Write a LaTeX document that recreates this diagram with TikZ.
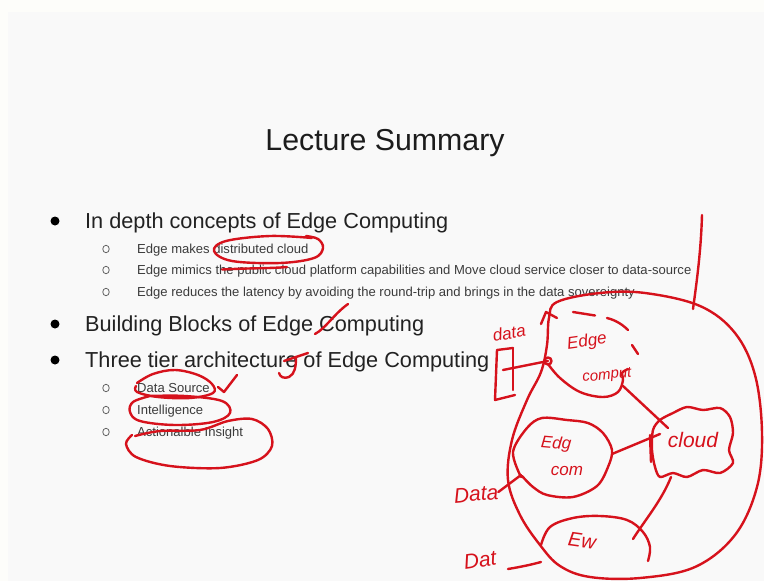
\documentclass[tikz,border=0pt]{standalone}
\usepackage{fontspec}
\setmainfont{Liberation Sans}
\usetikzlibrary{shapes.geometric}
\definecolor{pen}{RGB}{214,18,28}
\definecolor{slidebg}{RGB}{249,249,249}
\definecolor{pagebg}{RGB}{253,253,250}
\definecolor{headink}{RGB}{28,28,28}
\definecolor{bodyink}{RGB}{34,34,34}
\definecolor{subink}{RGB}{60,60,60}
\begin{document}
\begin{tikzpicture}[x=1pt,y=-1pt,
  ink/.style={draw=pen, line width=2.4pt, line cap=round, line join=round},
  hand/.style={text=pen, inner sep=0pt, font=\fontsize{#1}{#1}\selectfont\itshape},
  mainitem/.style={anchor=base west, inner sep=0pt, text=bodyink, font=\fontsize{21.7}{26}\selectfont},
  subitem/.style={anchor=base west, inner sep=0pt, text=subink, font=\fontsize{13.05}{15}\selectfont},
  bigdot/.style={fill=black, circle, inner sep=0pt, minimum size=9pt},
  ring/.style={draw=subink!80, line width=0.8pt, ellipse, inner sep=0pt, minimum width=6.5pt, minimum height=7.5pt}]

% page and slide area
\fill[pagebg] (0,0) rectangle (764,581);
\fill[slidebg] (8,12) rectangle (764,581);
\useasboundingbox (0,0) rectangle (764,581);

% title
\node[anchor=base, inner sep=0pt, text=headink, font=\fontsize{30.3}{36}\selectfont] (title) at (385,150) {Lecture Summary};

% first-level bullets
\node[bigdot] (b1) at (55,221) {};
\node[bigdot] (b2) at (55,324) {};
\node[bigdot] (b3) at (55,360) {};
\node[mainitem] (m1) at (85,228) {In depth concepts of Edge Computing};
\node[mainitem] (m2) at (85,331) {Building Blocks of Edge Computing};
\node[mainitem] (m3) at (85,367) {Three tier architecture of Edge Computing};

% second-level bullets
\foreach \yy/\nm in {249/r1,270/r2,292/r3,388/r4,410/r5,432/r6}
  \node[ring] (\nm) at (106,\yy) {};
\node[subitem] (s1) at (137,253.5) {Edge makes distributed cloud};
\node[subitem] (s2) at (137,274.5) {Edge mimics the public cloud platform capabilities and Move cloud service closer to data-source};
\node[subitem] (s3) at (137,296.5) {Edge reduces the latency by avoiding the round-trip and brings in the data sovereignty};
\node[subitem] (s4) at (137,392.5) {Data Source};
\node[subitem] (s5) at (137,414.5) {Intelligence};
\node[subitem] (s6) at (137,436.5) {Actionalble Insight};

% ---- pen annotations on the text ----
% loop around "distributed cloud"
\draw[ink] plot[smooth, tension=0.6] coordinates {(312,238) (270,236) (226,241) (214,251) (232,261) (280,263) (314,258) (323,248) (318,239) (306,236)};
% strike through "public cloud"
\draw[ink] (222,269.5) .. controls (250,268) and (270,268.5) .. (287,267);
% slash over the C of Computing
\draw[ink] (315,334) .. controls (326,328) and (334,314) .. (348,304);
% hook across "architecture"
\draw[ink] (284,361) -- (308,353);
\draw[ink] (296,358) .. controls (296,366) and (295,374) .. (289,377) .. controls (284,379) and (280,377) .. (279,373);
% tick after "Data Source"
\draw[ink] (218,387) -- (224,392) -- (237,375);
% loop around "Data Source"
\draw[ink] plot[smooth, tension=0.6] coordinates {(137,383) (153,374) (175,370) (198,375) (212,384) (213,393) (190,398) (158,397) (137,392) (136,386)};
% loop around "Intelligence"
\draw[ink] plot[smooth, tension=0.6] coordinates {(150,396) (133,402) (130,412) (140,421) (175,425) (213,422) (230,413) (222,401) (185,396) (150,396)};
% large loop around "Actionalble Insight"
\draw[ink] plot[smooth, tension=0.55] coordinates {(135,436) (160,431) (200,430) (228,421) (252,419) (268,429) (272,446) (258,460) (220,468) (170,466) (136,457) (126,444) (132,435)};

% vertical stroke at the right of the list
\draw[ink] (702,215) .. controls (701,250) and (697,280) .. (693,309);

% ---- hand sketch: edge / cloud layout ----
% outer boundary
\draw[ink] plot[smooth cycle, tension=0.6] coordinates {(549,318) (557,302) (600,293) (645,293) (700,306) (735,333) (755,375) (762,433) (757,487) (735,535) (695,567) (640,578) (590,577) (560,566) (540,545) (520,515) (508,480) (512,440) (527,400) (541,372) (547,345)};

% top edge-computing cloud (dashed upper rim)
\coordinate (knot) at (548,361);
\draw[ink] (knot) circle (3.5);
\draw[ink] plot[smooth, tension=0.6] coordinates {(548,364) (560,378) (580,392) (603,397) (618,392) (623,380) (622,373) (628,369)};
\draw[ink] (541,324) -- (546,312) -- (557,318);
\draw[ink] (573,312) -- (595,315.5);
\draw[ink] (607,318) .. controls (615,320) and (622,324) .. (628,330);
\draw[ink] (632,345) -- (638,354);
\node[hand=17, rotate=8] (edgeA) at (587,342) {Edge};
\node[hand=15, rotate=6] (compA) at (607,376) {comput};

% data bracket feeding the top cloud
\draw[ink] (513,348) -- (497,350) -- (495,400) -- (515,395);
\draw[ink] (513,348) -- (513,390);
\coordinate (boxin) at (503,370);
\draw[ink] (boxin) -- (knot);
\node[hand=17, rotate=10] (dataA) at (509,333) {data};

% right cloud
\draw[ink] plot[smooth cycle, tension=0.5] coordinates {(653,430) (660,420) (673,413) (687,407) (703,410) (720,408) (730,417) (733,433) (729,450) (733,463) (720,473) (703,470) (687,477) (673,473) (660,477) (655,467) (652,450)};
\draw[ink] (650,435) -- (651,462);
\node[hand=21] (cloudR) at (693,440) {cloud};

% middle edge-computing cloud
\draw[ink] plot[smooth, tension=0.55] coordinates {(521,477) (513,452) (527,428) (542,418) (567,420) (588,423) (603,433) (612,450) (608,467) (597,486) (573,497) (547,495) (533,487) (522,476)};
\node[hand=17, rotate=-5] (edgeB) at (556,444) {Edg};
\node[hand=17] (compB) at (567,471) {com};

% bottom cloud
\draw[ink] plot[smooth, tension=0.6] coordinates {(541,545) (550,527) (573,518) (600,516) (627,520) (643,532) (650,547) (648,561)};
\node[hand=20, rotate=-8] (ewC) at (582,541) {Ew};

% links between the clouds
\coordinate (topout) at (623,386);
\coordinate (rin1) at (668,428);
\draw[ink] (topout) -- (rin1);
\coordinate (midout) at (612,454);
\coordinate (rin2) at (660,434);
\draw[ink] (midout) -- (rin2);
\coordinate (rout) at (671,477);
\coordinate (botin) at (633,539);
\draw[ink] (rout) .. controls (662,500) and (645,520) .. (botin);

% data sources on the left
\node[hand=21, rotate=5] (dataB) at (476,494) {Data};
\coordinate (midin) at (521,475);
\draw[ink] (dataB.east) -- (midin);
\node[hand=21, rotate=8] (dataC) at (480,560) {Dat};
\coordinate (botleft) at (541,562);
\draw[ink] (508,569) .. controls (520,567) and (530,565) .. (botleft);

\end{tikzpicture}
\end{document}
